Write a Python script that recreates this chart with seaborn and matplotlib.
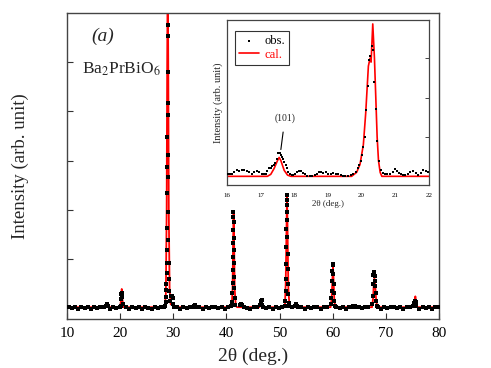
import numpy as np
import pandas as pd
import matplotlib
matplotlib.use('Agg')
import matplotlib.pyplot as plt
import seaborn as sns

# ---- main pattern: calculated profile (vertices)
cal_x = [10.0, 17.2, 17.5, 17.8, 20.0, 20.2, 20.3, 20.4, 20.6,
         28.4, 28.6, 28.75, 28.85, 28.95, 29.05, 29.15, 29.3, 29.5, 29.8, 30.1,
         33.8, 34.0, 34.2,
         41.0, 41.15, 41.25, 41.35, 41.45, 41.55, 41.75, 42.0,
         46.2, 46.5, 46.8,
         51.0, 51.15, 51.3, 51.4, 51.5, 51.65, 51.85, 52.1,
         59.6, 59.8, 59.95, 60.05, 60.15, 60.3, 60.5,
         63.8, 64.0, 64.2,
         67.4, 67.6, 67.75, 67.85, 68.0, 68.15, 68.35,
         75.1, 75.4, 75.55, 75.7, 75.95, 80.0]
cal_y = [0.02, 0.02, 0.08, 0.02, 0.02, 0.2, 0.39, 0.2, 0.02,
         0.02, 0.3, 2.0, 5.0, 7.0, 5.0, 2.0, 0.4, 0.08, 0.06, 0.02,
         0.02, 0.07, 0.02,
         0.02, 0.4, 1.3, 1.95, 1.3, 0.4, 0.05, 0.02,
         0.02, 0.14, 0.02,
         0.02, 0.5, 1.6, 2.3, 1.6, 0.4, 0.05, 0.02,
         0.02, 0.2, 0.6, 0.85, 0.6, 0.15, 0.02,
         0.02, 0.05, 0.02,
         0.02, 0.2, 0.55, 0.6, 0.45, 0.2, 0.02,
         0.02, 0.12, 0.24, 0.12, 0.02, 0.02]

# ---- main pattern: observed points, per region
obs_background = [
    (10.3, 0.02), (10.9, 0.01), (11.5, 0.02), (12.1, -0.01), (12.7, 0.02), (13.3, 0.01),
    (13.9, 0.02), (14.5, -0.01), (15.1, 0.02), (15.7, 0.01), (16.3, 0.02), (16.9, 0.03),
    (18.1, -0.01), (18.7, 0.02), (19.3, 0.01), (19.9, 0.02), (21.1, 0.02), (21.7, -0.01),
    (22.3, 0.02), (22.9, 0.01), (23.5, 0.02), (24.1, -0.01), (24.7, 0.02), (25.3, 0.01),
    (25.9, -0.01), (26.5, 0.02), (27.1, 0.01), (27.7, 0.02), (28.3, 0.03), (30.1, 0.03),
    (30.7, 0.02), (31.3, -0.01), (31.9, 0.02), (32.5, 0.01), (33.1, 0.02), (33.7, 0.02),
    (34.9, 0.02), (35.5, -0.01), (36.1, 0.02), (36.7, 0.01), (37.3, 0.02), (37.9, 0.02),
    (38.5, 0.01), (39.1, 0.02), (39.7, -0.01), (40.3, 0.02), (43.3, 0.02), (43.9, 0.01),
    (44.5, -0.01), (45.1, 0.02), (45.7, 0.02), (46.9, 0.02), (47.5, 0.01), (48.1, 0.02),
    (48.7, -0.01), (49.3, 0.02), (49.9, 0.01), (50.5, 0.02), (52.3, 0.02), (53.5, 0.03),
    (54.1, 0.02), (54.7, -0.01), (55.3, 0.02), (55.9, 0.01), (56.5, 0.02), (57.1, 0.02),
    (57.7, -0.01), (58.3, 0.02), (58.9, 0.02), (60.7, 0.02), (61.3, 0.01), (61.9, 0.02),
    (62.5, -0.01), (63.1, 0.02), (63.7, 0.03), (64.3, 0.03), (64.9, 0.02), (65.5, 0.01),
    (66.1, 0.02), (66.7, 0.02), (68.5, 0.02), (69.1, -0.01), (69.7, 0.02), (70.3, 0.01),
    (70.9, 0.02), (71.5, 0.02), (72.1, 0.01), (72.7, 0.02), (73.3, -0.01), (73.9, 0.02),
    (74.5, 0.02), (76.3, -0.01), (76.9, 0.02), (77.5, 0.01), (78.1, 0.02), (78.7, -0.01),
    (79.3, 0.02), (79.9, 0.02)]
obs_peaks = [
    (17.35, 0.04), (17.5, 0.08), (17.65, 0.05),
    (20.1, 0.05), (20.2, 0.18), (20.25, 0.28), (20.3, 0.3), (20.35, 0.22), (20.45, 0.08),
    (28.5, 0.05), (28.56, 0.12), (28.62, 0.22), (28.66, 0.37), (28.7, 0.5), (28.73, 0.71),
    (28.76, 0.91), (28.79, 1.18), (28.82, 1.63), (28.85, 2.34), (28.87, 2.87), (28.89, 3.48),
    (28.91, 4.17), (28.93, 4.8), (28.95, 5.53), (28.97, 5.75), (29.01, 3.92), (29.03, 3.11),
    (29.05, 2.66), (29.07, 1.95), (29.09, 1.38), (29.11, 0.91), (29.14, 0.6), (29.2, 0.35),
    (29.3, 0.15), (29.45, 0.15), (29.55, 0.25), (29.65, 0.24), (29.75, 0.25), (29.85, 0.2),
    (29.95, 0.08),
    (33.9, 0.05), (34.05, 0.06), (34.2, 0.03),
    (40.95, 0.04), (41.05, 0.12), (41.1, 0.3), (41.14, 0.51), (41.17, 0.77), (41.2, 1.04),
    (41.23, 1.32), (41.26, 1.59), (41.29, 1.85), (41.32, 1.95), (41.35, 1.75), (41.38, 1.42),
    (41.41, 1.18), (41.44, 0.91), (41.47, 0.63), (41.5, 0.41), (41.55, 0.2), (41.62, 0.06),
    (42.5, 0.07), (42.7, 0.08), (42.9, 0.06),
    (46.3, 0.07), (46.45, 0.15), (46.6, 0.16), (46.75, 0.07),
    (51.0, 0.04), (51.1, 0.14), (51.15, 0.35), (51.19, 0.6), (51.22, 0.9), (51.25, 1.25),
    (51.28, 1.6), (51.31, 1.95), (51.34, 2.2), (51.37, 2.3), (51.4, 2.1), (51.43, 1.8),
    (51.46, 1.45), (51.49, 1.1), (51.52, 0.8), (51.55, 0.5), (51.6, 0.28), (51.68, 0.1),
    (51.8, 0.04),
    (52.9, 0.05), (53.1, 0.08), (53.3, 0.05),
    (59.6, 0.08), (59.7, 0.2), (59.8, 0.35), (59.87, 0.55), (59.93, 0.75), (60.0, 0.9),
    (60.05, 0.88), (60.1, 0.7), (60.16, 0.5), (60.22, 0.3), (60.3, 0.15), (60.4, 0.05),
    (63.9, 0.05), (64.1, 0.05),
    (67.4, 0.08), (67.5, 0.25), (67.58, 0.5), (67.65, 0.68), (67.72, 0.73), (67.8, 0.72),
    (67.88, 0.65), (67.95, 0.55), (68.02, 0.45), (68.1, 0.3), (68.18, 0.15), (68.3, 0.05),
    (75.2, 0.05), (75.35, 0.1), (75.5, 0.15), (75.62, 0.12), (75.75, 0.05)]

# ---- inset (16-22 deg)
ins_cal_x = [16.0, 17.2, 17.3, 17.4, 17.5, 17.55, 17.6, 17.7, 17.8, 17.9,
             19.7, 19.85, 19.95, 20.05, 20.12, 20.2, 20.25, 20.28, 20.33,
             20.38, 20.42, 20.46, 20.5, 20.55, 20.6, 22.0]
ins_cal_y = [0.0, 0.0, 0.05, 0.2, 0.4, 0.48, 0.4, 0.15, 0.03, 0.0,
             0.0, 0.1, 0.3, 0.8, 1.6, 2.8, 3.0, 2.9, 3.87,
             3.0, 2.0, 1.0, 0.4, 0.1, 0.0, 0.0]
ins_obs = [
    (16.04, 0.07), (16.09, 0.06), (16.14, 0.07), (16.21, 0.12), (16.29, 0.15), (16.36, 0.14),
    (16.44, 0.15), (16.51, 0.15), (16.58, 0.14), (16.65, 0.1), (16.73, 0.07), (16.8, 0.1),
    (16.88, 0.14), (16.95, 0.1), (17.03, 0.06), (17.09, 0.05), (17.15, 0.07), (17.2, 0.14),
    (17.25, 0.2), (17.3, 0.22), (17.35, 0.25), (17.4, 0.3), (17.44, 0.35), (17.48, 0.45),
    (17.52, 0.58), (17.55, 0.6), (17.58, 0.6), (17.61, 0.55), (17.64, 0.5), (17.67, 0.43),
    (17.7, 0.37), (17.74, 0.28), (17.77, 0.2), (17.82, 0.12), (17.87, 0.07), (17.92, 0.04),
    (17.97, 0.03), (18.02, 0.06), (18.07, 0.1), (18.13, 0.13), (18.2, 0.13), (18.25, 0.09),
    (18.31, 0.05), (18.38, 0.02), (18.46, 0.01), (18.53, 0.02), (18.61, 0.03), (18.67, 0.07),
    (18.73, 0.1), (18.8, 0.1), (18.86, 0.08), (18.93, 0.1), (19.01, 0.06), (19.08, 0.05),
    (19.16, 0.08), (19.23, 0.07), (19.3, 0.05), (19.38, 0.03), (19.45, 0.02), (19.52, 0.02),
    (19.6, 0.01), (19.68, 0.03), (19.75, 0.06), (19.82, 0.12), (19.88, 0.22), (19.93, 0.3),
    (19.98, 0.4), (20.02, 0.55), (20.05, 0.75), (20.1, 1.0), (20.14, 1.68), (20.18, 2.3),
    (20.22, 2.95), (20.26, 3.05), (20.3, 3.3), (20.34, 3.2), (20.38, 2.4), (20.42, 1.7),
    (20.46, 0.9), (20.51, 0.4), (20.57, 0.15), (20.63, 0.09), (20.69, 0.07), (20.76, 0.06),
    (20.84, 0.05), (20.92, 0.12), (20.99, 0.18), (21.04, 0.14), (21.1, 0.09), (21.17, 0.05),
    (21.23, 0.03), (21.3, 0.04), (21.38, 0.07), (21.45, 0.1), (21.53, 0.13), (21.6, 0.08),
    (21.68, 0.03), (21.75, 0.08), (21.83, 0.16), (21.9, 0.13), (21.98, 0.12)]

main_xticks = [10, 20, 30, 40, 50, 60, 70, 80]
inset_xticks = [16, 17, 18, 19, 20, 21, 22]

sns.set_theme(style='ticks')
plt.rcParams['font.family'] = ['Liberation Serif', 'DejaVu Serif']
plt.rcParams['mathtext.fontset'] = 'stix'

fig = plt.figure(figsize=(4.91, 3.68), dpi=100)
ax = fig.add_axes([0.1365, 0.1332, 0.7576, 0.8315])

obs_main = pd.DataFrame(obs_background + obs_peaks, columns=['x', 'y'])
sns.lineplot(x=cal_x, y=cal_y, sort=False, estimator=None, color='red', lw=1.3, ax=ax, zorder=2)
sns.scatterplot(data=obs_main, x='x', y='y', marker='s', s=5, color='black',
                linewidth=0, ax=ax, zorder=3)
ax.set_xlim(10, 80)
ax.set_ylim(-0.22, 6.0)
ax.set_xticks(main_xticks)
ax.set_yticks([1, 2, 3, 4, 5])
ax.set_yticklabels([])
ax.tick_params(direction='in', length=4, width=0.8, labelsize=11, colors='#333333',
               labelcolor='black')
ax.tick_params(axis='x', pad=6)
for s in ax.spines.values():
    s.set_color('#444444')
    s.set_linewidth(1.0)
ax.set_xlabel('2θ (deg.)', fontsize=14, labelpad=5)
ax.set_ylabel('Intensity (arb. unit)', fontsize=13.5, labelpad=24)
ax.text(0.097, 0.925, '(a)', transform=ax.transAxes, fontsize=14, style='italic',
        ha='center', va='center')
ax.text(0.04, 0.815, r'Ba$_2$PrBiO$_6$', transform=ax.transAxes, fontsize=12.5,
        ha='left', va='center')

# inset
axi = fig.add_axes([0.4623, 0.4973, 0.4114, 0.4484])
ins_df = pd.DataFrame(ins_obs, columns=['x', 'y'])
sns.lineplot(x=ins_cal_x, y=ins_cal_y, sort=False, estimator=None, color='red', lw=1.2,
             ax=axi, zorder=2, label='cal.')
sns.scatterplot(data=ins_df, x='x', y='y', marker='s', s=3, color='black', linewidth=0,
                ax=axi, zorder=3, label='obs.')
axi.set_xlim(16, 22)
axi.set_ylim(-0.22, 3.97)
axi.set_xticks(inset_xticks)
axi.set_yticks([1, 2, 3])
axi.yaxis.tick_right()
axi.set_yticklabels([])
axi.tick_params(direction='in', length=3, width=0.7, labelsize=5, colors='#444444',
                labelcolor='black')
axi.tick_params(axis='x', length=0, pad=6)
for s in axi.spines.values():
    s.set_color('#444444')
    s.set_linewidth(0.9)
axi.set_xlabel('2θ (deg.)', fontsize=6.5, labelpad=1)
axi.set_ylabel('Intensity (arb. unit)', fontsize=7.5, labelpad=3)
axi.yaxis.set_label_position('left')

handles, labels = axi.get_legend_handles_labels()
order = [labels.index('obs.'), labels.index('cal.')]
leg = axi.legend([handles[i] for i in order], [labels[i] for i in order],
                 loc='upper left', fontsize=9, frameon=True, fancybox=False,
                 edgecolor='black', borderpad=0.3, handlelength=1.6,
                 handletextpad=0.4, labelspacing=0.15, bbox_to_anchor=(0.01, 0.97))
leg.get_frame().set_linewidth(0.8)
for t in leg.get_texts():
    t.set_color('red' if t.get_text() == 'cal.' else 'black')

axi.annotate('(101)', xy=(17.6, 0.68), xytext=(17.72, 1.47), fontsize=7,
             ha='center', va='center',
             arrowprops=dict(arrowstyle='-', color='black', lw=0.8, shrinkB=0, shrinkA=4))

fig.savefig('out.png', dpi=100)
